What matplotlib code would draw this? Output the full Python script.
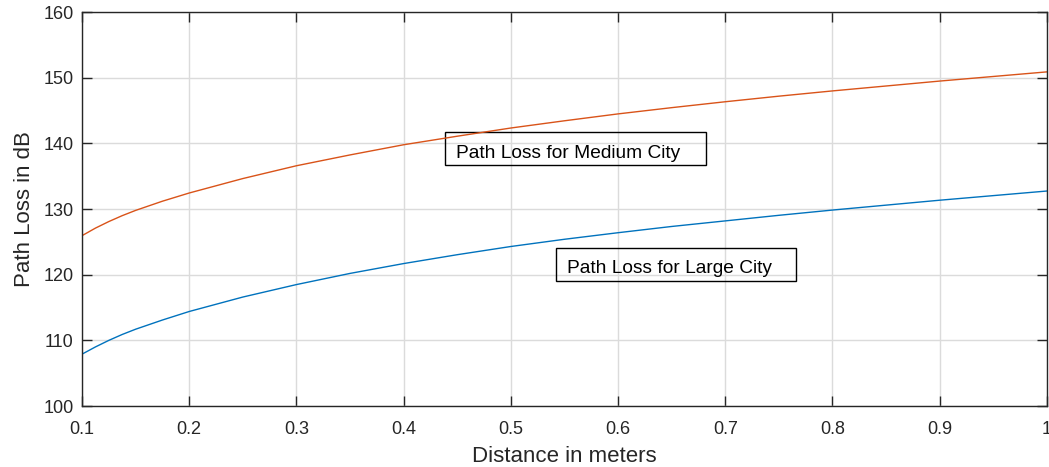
import matplotlib.pyplot as plt
from matplotlib.patches import Rectangle

# Values
distance = [0.1, 0.1125, 0.125, 0.1375, 0.15, 0.175, 0.2, 0.25, 0.3, 0.35,
            0.4, 0.45, 0.5, 0.55, 0.6, 0.65, 0.7, 0.75, 0.8, 0.85, 0.9,
            0.95, 1.0]
large_city = [107.9, 109.0, 110.0, 110.9, 111.7, 113.1, 114.4, 116.6, 118.5,
              120.2, 121.7, 123.05, 124.3, 125.4, 126.4, 127.35, 128.2,
              129.05, 129.85, 130.6, 131.35, 132.05, 132.75]
medium_city = [125.95, 127.1, 128.1, 129.0, 129.8, 131.2, 132.45, 134.65,
               136.6, 138.25, 139.8, 141.1, 142.35, 143.45, 144.5, 145.45,
               146.35, 147.2, 148.0, 148.75, 149.5, 150.2, 150.9]

xticks = [0.1, 0.2, 0.3, 0.4, 0.5, 0.6, 0.7, 0.8, 0.9, 1]
xticklabels = ["0.1", "0.2", "0.3", "0.4", "0.5", "0.6", "0.7", "0.8", "0.9", "1"]
yticks = [100, 110, 120, 130, 140, 150, 160]

plt.rcParams['font.family'] = ['Liberation Sans', 'DejaVu Sans']

fig = plt.figure(figsize=(10.49, 4.67), dpi=100)
ax = fig.add_axes([0.0782, 0.1306, 0.9198, 0.8434])

ax.plot(distance, large_city, color="#0072BD", linewidth=1.0)
ax.plot(distance, medium_city, color="#D95319", linewidth=1.0)

ax.set_xlim(0.1, 1)
ax.set_ylim(100, 160)
ax.set_xticks(xticks)
ax.set_xticklabels(xticklabels)
ax.set_yticks(yticks)

ax.grid(True, color="#DBDBDB", linewidth=1.0)
ax.set_axisbelow(True)
for s in ax.spines.values():
    s.set_color("#262626")
    s.set_linewidth(1.0)
ax.tick_params(direction="in", length=7, width=1.0, colors="#262626",
               labelsize=13, top=True, right=True)
ax.tick_params(axis="x", pad=11)
ax.tick_params(axis="y", pad=6)

ax.set_xlabel("Distance in meters", fontsize=16, color="#262626", labelpad=5.5)
ax.set_ylabel("Path Loss in dB", fontsize=16, color="#262626", labelpad=6)

# text boxes (MATLAB style annotation, transparent fill)
ax.add_patch(Rectangle((0.4385, 136.70), 0.6817 - 0.4385, 141.77 - 136.70,
                       fill=False, edgecolor="black", linewidth=1.0))
ax.text(0.4486, 137.81, "Path Loss for Medium City", fontsize=13.8,
        va="baseline", ha="left")
ax.add_patch(Rectangle((0.5417, 119.04), 0.7663 - 0.5417, 124.11 - 119.04,
                       fill=False, edgecolor="black", linewidth=1.0))
ax.text(0.5523, 120.21, "Path Loss for Large City", fontsize=13.8,
        va="baseline", ha="left")

fig.savefig("out.png", dpi=100)
